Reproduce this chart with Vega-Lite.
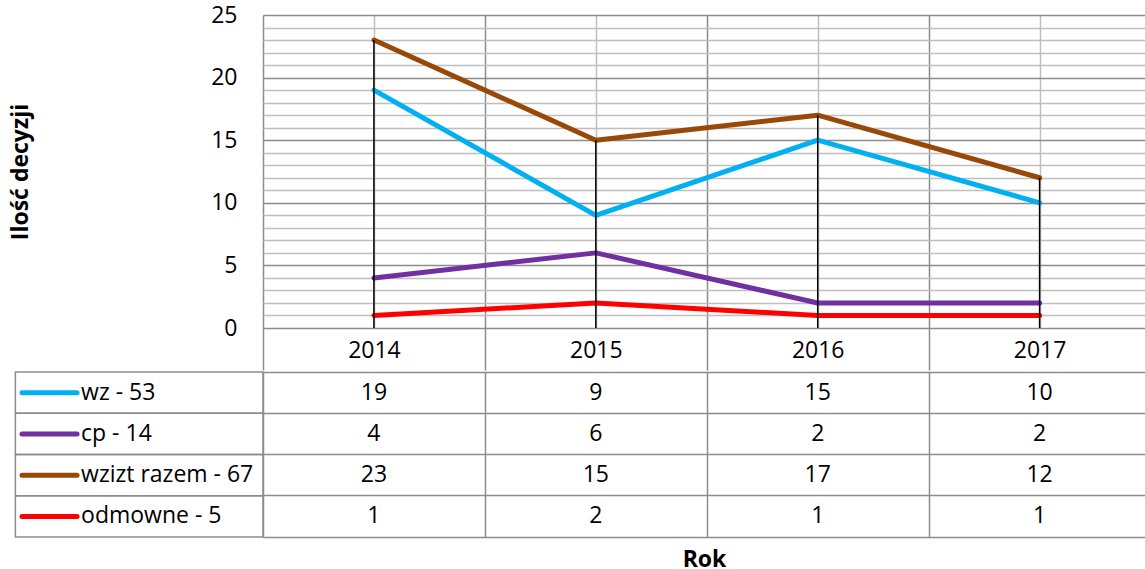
{
  "$schema": "https://vega.github.io/schema/vega-lite/v6.json",
  "padding": {"left": 9, "top": 4, "right": 0, "bottom": 0},
  "background": "white",
  "config": {
    "view": {"stroke": null},
    "font": "Open Sans",
    "axis": {"labelFont": "Open Sans", "titleFont": "Open Sans", "labelColor": "black", "titleColor": "black"}
  },
  "datasets": {
    "decyzje": [
      {"year": 2014, "series": "wz - 53", "value": 19},
      {"year": 2015, "series": "wz - 53", "value": 9},
      {"year": 2016, "series": "wz - 53", "value": 15},
      {"year": 2017, "series": "wz - 53", "value": 10},
      {"year": 2014, "series": "cp - 14", "value": 4},
      {"year": 2015, "series": "cp - 14", "value": 6},
      {"year": 2016, "series": "cp - 14", "value": 2},
      {"year": 2017, "series": "cp - 14", "value": 2},
      {"year": 2014, "series": "wzizt razem - 67", "value": 23},
      {"year": 2015, "series": "wzizt razem - 67", "value": 15},
      {"year": 2016, "series": "wzizt razem - 67", "value": 17},
      {"year": 2017, "series": "wzizt razem - 67", "value": 12},
      {"year": 2014, "series": "odmowne - 5", "value": 1},
      {"year": 2015, "series": "odmowne - 5", "value": 2},
      {"year": 2016, "series": "odmowne - 5", "value": 1},
      {"year": 2017, "series": "odmowne - 5", "value": 1}
    ]
  },
  "spacing": 0,
  "vconcat": [
    {
      "width": 882,
      "height": 313,
      "data": {"name": "decyzje"},
      "layer": [
        {
          "mark": {"type": "line", "strokeWidth": 5, "strokeCap": "round", "strokeJoin": "round"},
          "encoding": {
            "x": {
              "field": "year", "type": "quantitative",
              "scale": {"domain": [2013.5, 2017.475], "nice": false, "zero": false},
              "axis": {
                "values": [2013.5, 2014, 2014.5, 2015, 2015.5, 2016, 2016.5, 2017],
                "tickCount": 40,
                "format": ".0f",
                "title": null,
                "domain": false,
                "grid": true,
                "gridWidth": 1.5,
                "gridColor": {"condition": {"test": "datum.value % 1 === 0", "value": "#bfbfbf"}, "value": "#8c8c8c"},
                "ticks": true,
                "tickSize": 42,
                "tickWidth": 1.5,
                "tickColor": "#8c8c8c",
                "tickOpacity": {"condition": {"test": "datum.value % 1 === 0", "value": 0}, "value": 1},
                "labelColor": {"condition": {"test": "datum.value % 1 === 0", "value": "black"}, "value": "transparent"},
                "labelFontSize": 23,
                "labelPadding": -31,
                "labelOverlap": false,
                "labelFlush": false
              }
            },
            "y": {
              "field": "value", "type": "quantitative",
              "scale": {"domain": [0, 25], "nice": false},
              "axis": {
                "values": [0,1,2,3,4,5,6,7,8,9,10,11,12,13,14,15,16,17,18,19,20,21,22,23,24,25],
                "tickCount": 40,
                "format": ".0f",
                "title": "Ilość decyzji",
                "titleFontSize": 23,
                "titleFontWeight": "bold",
                "titlePadding": 178,
                "labelExpr": "datum.value % 5 ? '' : datum.label",
                "labelFontSize": 23,
                "labelPadding": 26,
                "ticks": false,
                "domain": false,
                "grid": true,
                "gridWidth": 1.5,
                "gridColor": {"condition": {"test": "datum.value % 5 === 0", "value": "#8c8c8c"}, "value": "#bfbfbf"},
                "labelOverlap": false,
                "labelFlush": false
              }
            },
            "color": {
              "field": "series", "type": "nominal",
              "scale": {"domain": ["wz - 53", "cp - 14", "wzizt razem - 67", "odmowne - 5"], "range": ["#00b0f0", "#7030a0", "#984807", "#ff0000"]},
              "legend": null
            }
          }
        },
        {
          "transform": [{"aggregate": [{"op": "max", "field": "value", "as": "maxValue"}], "groupby": ["year"]}],
          "mark": {"type": "rule", "color": "black", "strokeWidth": 1.5},
          "encoding": {
            "x": {"field": "year", "type": "quantitative"},
            "y": {"field": "maxValue", "type": "quantitative"},
            "y2": {"datum": 0}
          }
        }
      ]
    },
    {
      "width": 882,
      "height": 165,
      "data": {"name": "decyzje"},
      "encoding": {
        "y": {
          "field": "series", "type": "nominal",
          "scale": {"type": "band", "domain": ["wz - 53", "cp - 14", "wzizt razem - 67", "odmowne - 5"], "paddingInner": 0, "paddingOuter": 0},
          "axis": {"bandPosition": 0, "grid": true, "gridColor": "#8c8c8c", "gridWidth": 1.5, "labels": false, "ticks": false, "domain": true, "domainColor": "#8c8c8c", "domainWidth": 1.5, "title": null}
        }
      },
      "layer": [
        {
          "mark": {"type": "text", "fontSize": 23, "font": "Open Sans", "color": "black"},
          "encoding": {
            "x": {
              "field": "year", "type": "quantitative",
              "scale": {"domain": [2013.5, 2017.475], "nice": false, "zero": false},
              "axis": {
                "values": [2014.5, 2015.5, 2016.5],
                "grid": true, "gridColor": "#8c8c8c", "gridWidth": 1.5,
                "labels": false, "ticks": false,
                "domain": true, "domainColor": "#8c8c8c", "domainWidth": 1.5,
                "title": "Rok", "titleFontSize": 23, "titleFontWeight": "bold", "titlePadding": 11
              }
            },
            "text": {"field": "value", "type": "quantitative"}
          }
        },
        {
          "transform": [{"aggregate": [{"op": "count", "as": "n"}], "groupby": ["series"]}],
          "mark": {"type": "rect", "fill": null, "fillOpacity": 0, "stroke": "#8c8c8c", "strokeWidth": 1.5},
          "encoding": {
            "x": {"datum": 2012.384},
            "x2": {"datum": 2013.5}
          }
        },
        {
          "transform": [{"aggregate": [{"op": "count", "as": "n"}], "groupby": ["series"]}],
          "mark": {"type": "rule", "strokeWidth": 5, "strokeCap": "round"},
          "encoding": {
            "x": {"datum": 2012.414},
            "x2": {"datum": 2012.662},
            "color": {"field": "series", "type": "nominal", "legend": null}
          }
        },
        {
          "transform": [{"aggregate": [{"op": "count", "as": "n"}], "groupby": ["series"]}],
          "mark": {"type": "text", "align": "left", "fontSize": 23, "font": "Open Sans", "color": "black"},
          "encoding": {
            "x": {"datum": 2012.68},
            "text": {"field": "series", "type": "nominal"}
          }
        }
      ]
    }
  ]
}
